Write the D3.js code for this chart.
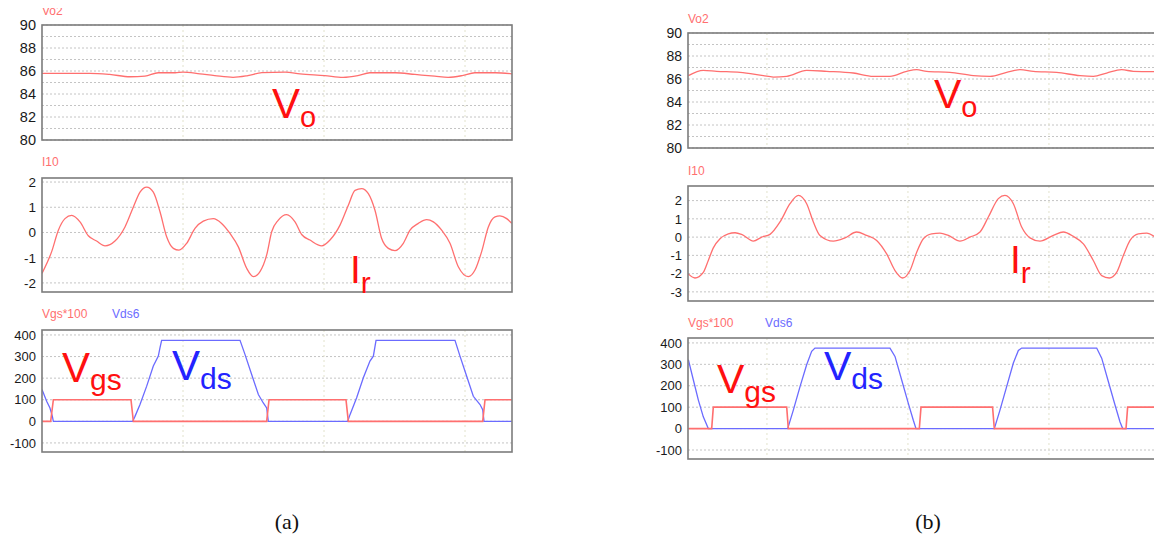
<!DOCTYPE html>
<html>
<head>
  <meta charset="utf-8">
  <title>Vo, Ir, Vgs / Vds waveforms</title>
  <style>
    body { margin: 0; background: #fff; }
    text { font-family: "Liberation Sans", Arial, sans-serif; }
  </style>
</head>
<body>
  <script src="https://d3js.org/d3.v7.min.js"></script>
  <script>
    // ---- data (time in us) ----
    // (a) output voltage Vo2
    const tVoA = [0, 0.68, 0.96, 1.25, 1.46, 1.65, 1.89, 2.0, 2.24, 2.45, 2.71, 2.92, 3.12, 3.45, 3.66, 4.01, 4.27, 4.48, 4.65, 5.01, 5.29, 5.57, 5.76, 5.96, 6.14, 6.43, 6.67];
    const voA = [85.8, 85.8, 85.7, 85.5, 85.55, 85.85, 85.85, 85.9, 85.75, 85.6, 85.45, 85.6, 85.85, 85.9, 85.75, 85.6, 85.45, 85.6, 85.85, 85.85, 85.7, 85.55, 85.45, 85.6, 85.85, 85.85, 85.75];

    // (a) resonant current I10
    const tIrA = [0, 0.137, 0.232, 0.326, 0.421, 0.539, 0.657, 0.775, 0.894, 1.035, 1.177, 1.296, 1.39, 1.485, 1.579, 1.674, 1.768, 1.863, 1.943, 2.052, 2.17, 2.288, 2.43, 2.548, 2.667, 2.785, 2.903, 2.998, 3.092, 3.187, 3.258, 3.352, 3.47, 3.589, 3.683, 3.801, 3.967, 4.085, 4.227, 4.345, 4.44, 4.534, 4.629, 4.723, 4.818, 4.913, 5.007, 5.125, 5.22, 5.338, 5.456, 5.551, 5.669, 5.787, 5.905, 6.047, 6.142, 6.236, 6.331, 6.426, 6.496, 6.591, 6.662];
    const irA = [-1.62, -0.76, 0.09, 0.55, 0.68, 0.42, -0.13, -0.34, -0.53, -0.34, 0.22, 1.01, 1.6, 1.8, 1.6, 0.82, -0.17, -0.63, -0.7, -0.43, 0.16, 0.45, 0.55, 0.36, -0.04, -0.57, -1.42, -1.75, -1.55, -0.89, 0.03, 0.49, 0.71, 0.42, -0.08, -0.3, -0.53, -0.3, 0.29, 1.08, 1.67, 1.74, 1.54, 0.88, -0.24, -0.63, -0.72, -0.43, 0.09, 0.36, 0.51, 0.42, 0.09, -0.43, -1.36, -1.75, -1.49, -0.76, 0.22, 0.62, 0.66, 0.55, 0.36];

    // (a) gate voltage Vgs*100
    const tVgsA = [0, 0.123, 0.161, 1.262, 1.296, 3.187, 3.22, 4.312, 4.345, 6.251, 6.284, 6.662];
    const vgsA = [0, 0, 100, 100, 0, 0, 100, 100, 0, 0, 100, 100];

    // (a) drain-source voltage Vds6
    const tVdsA = [0, 0.066, 0.113, 0.147, 0.161, 1.286, 1.319, 1.39, 1.485, 1.579, 1.65, 1.674, 1.697, 2.809, 2.879, 2.974, 3.069, 3.139, 3.187, 3.21, 4.336, 4.369, 4.463, 4.558, 4.652, 4.7, 4.738, 5.858, 5.929, 6.024, 6.118, 6.213, 6.251, 6.27, 6.662];
    const vdsA = [147, 93, 62, 23, 0, 0, 23, 78, 163, 256, 302, 341, 375, 375, 310, 217, 124, 85, 62, 0, 0, 31, 109, 202, 279, 302, 375, 375, 302, 209, 116, 78, 54, 0, 0];

    // (b) output voltage Vo2
    const tVoB = [0.885, 1.097, 1.287, 1.618, 1.949, 2.09, 2.28, 2.563, 2.847, 3.225, 3.509, 3.745, 3.982, 4.123, 4.265, 4.596, 4.927, 5.164, 5.4, 5.589, 5.778, 6.109, 6.44, 6.63, 6.819, 7.031, 7.197, 7.49];
    const voB = [86.29, 86.75, 86.67, 86.58, 86.29, 86.17, 86.23, 86.75, 86.67, 86.52, 86.23, 86.23, 86.67, 86.81, 86.67, 86.58, 86.29, 86.23, 86.58, 86.81, 86.67, 86.58, 86.29, 86.23, 86.52, 86.81, 86.67, 86.64];

    // (b) resonant current I10
    const tIrB = [0.885, 0.979, 1.097, 1.168, 1.239, 1.334, 1.452, 1.547, 1.641, 1.807, 1.925, 2.043, 2.185, 2.327, 2.445, 2.563, 2.658, 2.752, 2.941, 3.107, 3.272, 3.414, 3.556, 3.698, 3.816, 3.925, 4.029, 4.124, 4.218, 4.336, 4.454, 4.573, 4.738, 4.88, 5.022, 5.14, 5.282, 5.376, 5.495, 5.613, 5.731, 5.873, 6.062, 6.204, 6.346, 6.488, 6.629, 6.748, 6.856, 6.96, 7.055, 7.15, 7.268, 7.386, 7.49];
    const irB = [-2.02, -2.24, -1.93, -1.28, -0.59, -0.09, 0.18, 0.24, 0.15, -0.22, 0, 0.15, 0.83, 1.83, 2.29, 1.83, 0.83, 0.09, -0.22, -0.04, 0.28, 0.09, -0.18, -0.92, -1.83, -2.24, -1.83, -0.83, -0.09, 0.18, 0.22, 0.09, -0.22, 0, 0.28, 1.1, 2.11, 2.29, 1.83, 0.55, -0.04, -0.22, 0.09, 0.28, 0.04, -0.37, -1.28, -2.11, -2.24, -1.93, -1.01, -0.18, 0.18, 0.22, 0.04];

    // (b) gate voltage Vgs*100
    const tVgsB = [0.885, 1.216, 1.239, 2.28, 2.303, 4.161, 4.185, 5.2, 5.225, 7.093, 7.116, 7.49];
    const vgsB = [0, 0, 100, 100, 0, 0, 100, 100, 0, 0, 100, 100];

    // (b) drain-source voltage Vds6
    const tVdsB = [0.885, 0.956, 1.027, 1.097, 1.168, 2.294, 2.374, 2.469, 2.563, 2.634, 2.681, 3.745, 3.816, 3.911, 4.005, 4.076, 4.114, 5.225, 5.305, 5.4, 5.495, 5.566, 5.613, 6.677, 6.748, 6.842, 6.937, 7.008, 7.046, 7.49];
    const vdsB = [322, 227, 133, 55, 0, 0, 86, 196, 298, 361, 376, 376, 337, 227, 118, 39, 0, 0, 86, 196, 306, 365, 376, 376, 329, 220, 110, 31, 0, 0];

    const timeGrid = [2, 4, 6];
    const voTicks = [80, 82, 84, 86, 88, 90];
    const voGrid = d3.range(80, 91);
    const irTicksA = [-2, -1, 0, 1, 2];
    const irTicksB = [-3, -2, -1, 0, 1, 2];
    const vTicks = [-100, 0, 100, 200, 300, 400];

    const traceRed = "#ff6f6f", traceBlue = "#6b6bff";
    const labelRed = "#ff1010", labelBlue = "#2323ff";

    const svg = d3.select("body").append("svg")
      .attr("width", 1154)
      .attr("height", 541);

    const zip = (t, v) => t.map((d, i) => [d, v[i]]);

    function drawPanel(o) {
      const x = d3.scaleLinear().domain(o.xDomain).range([o.left, o.left + 470]);
      const y = d3.scaleLinear().domain(o.yDomain).range([o.bottom, o.top]);
      const g = svg.append("g");

      const clipId = "clip" + o.id;
      svg.append("defs").append("clipPath").attr("id", clipId)
        .append("rect")
        .attr("x", o.left).attr("y", o.top)
        .attr("width", 470).attr("height", o.bottom - o.top);

      // horizontal dotted grid
      g.selectAll(".hg").data(o.yGrid).join("line")
        .attr("x1", o.left).attr("x2", o.left + 470)
        .attr("y1", d => y(d)).attr("y2", d => y(d))
        .attr("stroke", "#c4c4c4").attr("stroke-width", 1)
        .attr("stroke-dasharray", "2,2");

      // vertical grid
      g.selectAll(".vg").data(timeGrid).join("line")
        .attr("x1", d => x(d)).attr("x2", d => x(d))
        .attr("y1", o.top).attr("y2", o.bottom)
        .attr("stroke", "#e2e2cc").attr("stroke-width", 1)
        .attr("stroke-dasharray", "2,3");

      // traces
      const cg = g.append("g").attr("clip-path", `url(#${clipId})`);
      o.series.forEach(s => {
        cg.append("path")
          .datum(zip(s.t, s.v))
          .attr("fill", "none")
          .attr("stroke", s.color)
          .attr("stroke-width", s.width || 1.3)
          .attr("d", d3.line()
            .x(d => x(d[0]))
            .y(d => y(d[1]))
            .curve(s.smooth ? d3.curveMonotoneX : d3.curveLinear));
      });

      // frame
      g.append("rect")
        .attr("x", o.left).attr("y", o.top)
        .attr("width", 470).attr("height", o.bottom - o.top)
        .attr("fill", "none").attr("stroke", "#7c7c7c").attr("stroke-width", 1.6);

      // tick labels (plain hyphen minus, as in the original)
      const ax = g.append("g")
        .attr("transform", `translate(${o.left},0)`)
        .call(d3.axisLeft(y).tickValues(o.yTicks).tickSize(0).tickPadding(6)
          .tickFormat(d => String(d)));
      ax.select(".domain").remove();
      ax.selectAll("text")
        .attr("font-size", o.tickSize)
        .attr("fill", "#1a1a1a")
        .style("font-family", "'Liberation Sans', Arial, sans-serif");

      // trace names
      o.names.forEach(n => {
        const t = g.append("text")
          .attr("x", n.x).attr("y", n.y)
          .attr("font-size", 12)
          .attr("fill", n.color)
          .text(n.text);
        if (n.clipTop !== undefined) {
          const cid = clipId + "t";
          svg.append("defs").append("clipPath").attr("id", cid)
            .append("rect").attr("x", 0).attr("y", n.clipTop).attr("width", 600).attr("height", 40);
          t.attr("clip-path", `url(#${cid})`);
        }
      });

      // big annotation
      o.labels.forEach(l => {
        const t = g.append("text")
          .attr("x", l.x).attr("y", l.y)
          .attr("fill", l.color);
        t.append("tspan").attr("font-size", l.size).text(l.main);
        t.append("tspan").attr("font-size", l.subSize).attr("dy", l.dy).text(l.sub);
      });
    }

    const panels = [
      // ---- (a) ----
      { id: "a1", xDomain: [0, 470 / 70.5], left: 42, top: 25, bottom: 140,
        yDomain: [80, 90], yTicks: voTicks, yGrid: voGrid, tickSize: 14.5,
        series: [{ t: tVoA, v: voA, color: traceRed, smooth: true }],
        names: [{ x: 42, y: 15, text: "Vo2", color: traceRed, clipTop: 8 }],
        labels: [{ x: 272, y: 118, main: "V", sub: "o", size: 42, subSize: 29, dy: 9, color: labelRed }] },
      { id: "a2", xDomain: [0, 470 / 70.5], left: 42, top: 178, bottom: 292,
        yDomain: [-2.36, 2.16], yTicks: irTicksA, yGrid: irTicksA, tickSize: 13.5,
        series: [{ t: tIrA, v: irA, color: traceRed, smooth: true }],
        names: [{ x: 42, y: 166, text: "I10", color: traceRed }],
        labels: [{ x: 350, y: 283, main: "I", sub: "r", size: 39, subSize: 30, dy: 10, color: labelRed }] },
      { id: "a3", xDomain: [0, 470 / 70.5], left: 42, top: 330, bottom: 452,
        yDomain: [-142, 423], yTicks: vTicks, yGrid: vTicks, tickSize: 13,
        series: [
          { t: tVdsA, v: vdsA, color: traceBlue },
          { t: tVgsA, v: vgsA, color: traceRed, width: 1.6 }
        ],
        names: [
          { x: 42, y: 318, text: "Vgs*100", color: traceRed },
          { x: 112, y: 318, text: "Vds6", color: traceBlue }
        ],
        labels: [
          { x: 62, y: 382, main: "V", sub: "gs", size: 42, subSize: 30, dy: 8, color: labelRed },
          { x: 172, y: 380, main: "V", sub: "ds", size: 42, subSize: 30, dy: 9, color: labelBlue }
        ] },
      // ---- (b) ----
      { id: "b1", xDomain: [0.88, 0.88 + 470 / 70.5], left: 688, top: 33, bottom: 148,
        yDomain: [80, 90], yTicks: voTicks, yGrid: voGrid, tickSize: 14,
        series: [{ t: tVoB, v: voB, color: traceRed, smooth: true }],
        names: [{ x: 688, y: 23, text: "Vo2", color: traceRed }],
        labels: [{ x: 934, y: 108, main: "V", sub: "o", size: 41, subSize: 29, dy: 9, color: labelRed }] },
      { id: "b2", xDomain: [0.88, 0.88 + 470 / 70.5], left: 688, top: 186, bottom: 301,
        yDomain: [-3.5, 2.8], yTicks: irTicksB, yGrid: irTicksB, tickSize: 13,
        series: [{ t: tIrB, v: irB, color: traceRed, smooth: true }],
        names: [{ x: 688, y: 175, text: "I10", color: traceRed }],
        labels: [{ x: 1010, y: 273, main: "I", sub: "r", size: 39, subSize: 30, dy: 10, color: labelRed }] },
      { id: "b3", xDomain: [0.88, 0.88 + 470 / 70.5], left: 688, top: 338, bottom: 459,
        yDomain: [-142, 423], yTicks: vTicks, yGrid: vTicks, tickSize: 13,
        series: [
          { t: tVdsB, v: vdsB, color: traceBlue },
          { t: tVgsB, v: vgsB, color: traceRed, width: 1.6 }
        ],
        names: [
          { x: 688, y: 327, text: "Vgs*100", color: traceRed },
          { x: 765, y: 327, text: "Vds6", color: traceBlue }
        ],
        labels: [
          { x: 717, y: 393, main: "V", sub: "gs", size: 41, subSize: 30, dy: 9, color: labelRed },
          { x: 824, y: 380, main: "V", sub: "ds", size: 41, subSize: 30, dy: 9, color: labelBlue }
        ] }
    ];

    panels.forEach(drawPanel);

    // captions
    svg.selectAll(".cap").data([{ x: 287, t: "(a)" }, { x: 928, t: "(b)" }]).join("text")
      .attr("x", d => d.x).attr("y", 529)
      .attr("text-anchor", "middle")
      .attr("font-size", 22)
      .style("font-family", "'Liberation Serif', 'Times New Roman', serif")
      .attr("fill", "#111")
      .text(d => d.t);
  </script>
</body>
</html>
